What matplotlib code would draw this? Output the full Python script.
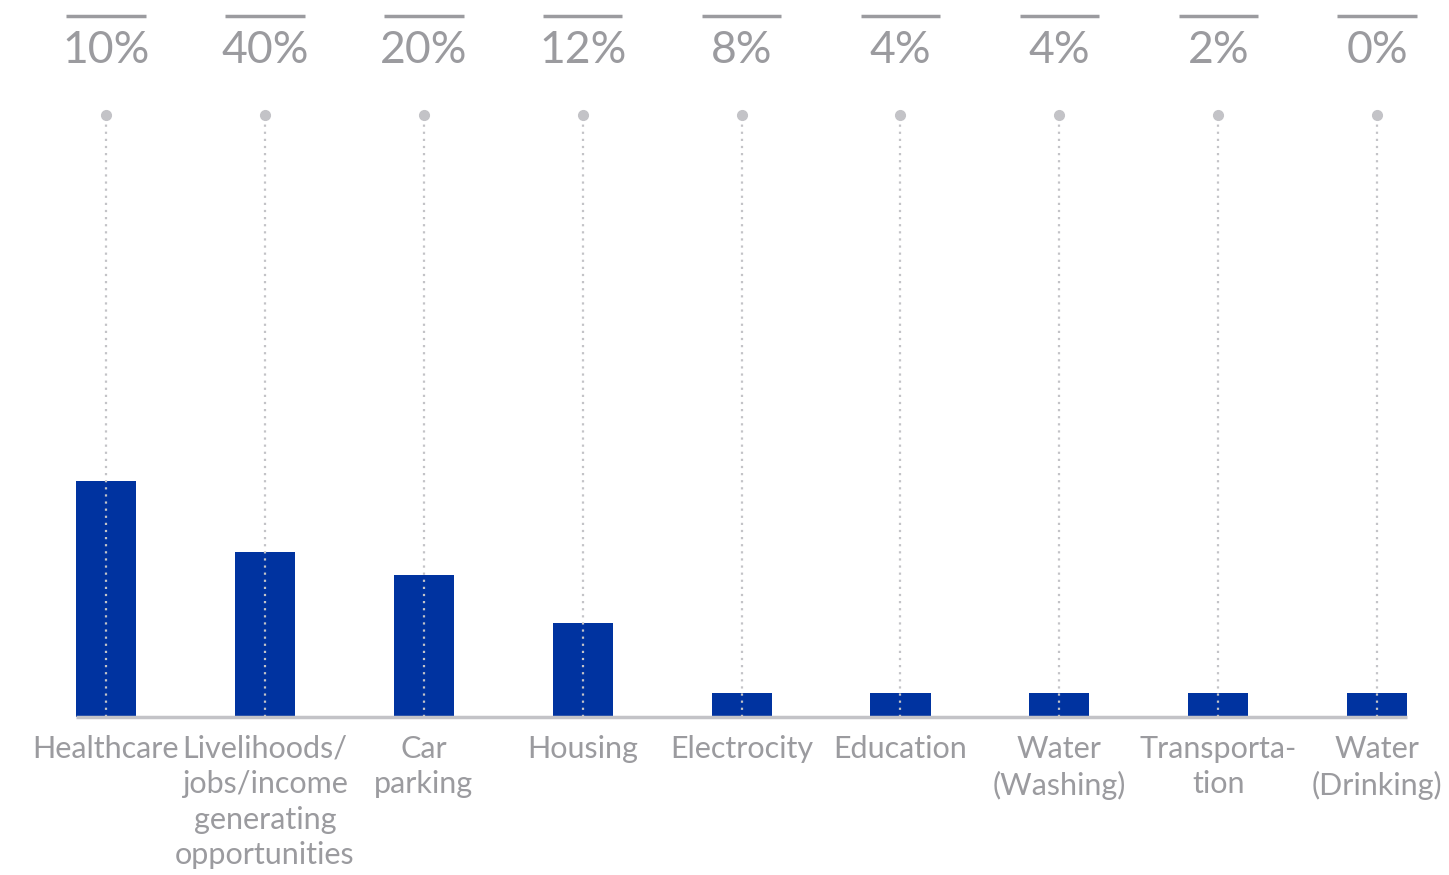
import matplotlib.pyplot as plt
import numpy as np

# Responses per issue (bar heights) and share labels shown above each column
categories = ['Healthcare', 'Livelihoods/\njobs/income\ngenerating\nopportunities', 'Car\nparking',
              'Housing', 'Electrocity', 'Education', 'Water\n(Washing)', 'Transporta-\ntion',
              'Water\n(Drinking)']
counts = [10, 7, 6, 4, 1, 1, 1, 1, 1]
share_labels = ['10%', '40%', '20%', '12%', '8%', '4%', '4%', '2%', '0%']

bar_color = '#0033A0'
grey = '#9B9B9F'
light_grey = '#C3C3C7'

fig = plt.figure(figsize=(14.49, 8.75), dpi=100)
ax = fig.add_axes([0, 0, 1, 1])
ax.set_xlim(-0.667, 8.452)
ax.set_ylim(-6.69, 30.38)
ax.axis('off')

x = np.arange(len(categories))
ax.bar(x, counts, width=0.378, color=bar_color, zorder=2)

# baseline
ax.plot([-0.189, 8.19], [0, 0], color=light_grey, lw=2.5, zorder=3, solid_capstyle='butt')

top = 25.5
for i in x:
    # dotted leader from the marker down to the baseline
    ax.plot([i, i], [0, top], color=light_grey, lw=1.6, ls=(0, (1, 2.2)), zorder=4)
    ax.plot(i, top, 'o', color=light_grey, ms=7, zorder=4)
    # share label with a rule above it
    ax.text(i, 28.25, share_labels[i], ha='center', va='center', fontsize=32,
            color=grey, family='Lato')
    ax.plot([i - 0.25, i + 0.25], [29.72, 29.72], color=grey, lw=2.5, solid_capstyle='butt')
    ax.text(i, -0.75, categories[i], ha='center', va='top', fontsize=22, color=grey,
            family='Lato', linespacing=1.32)

fig.savefig('out.png', dpi=100)
